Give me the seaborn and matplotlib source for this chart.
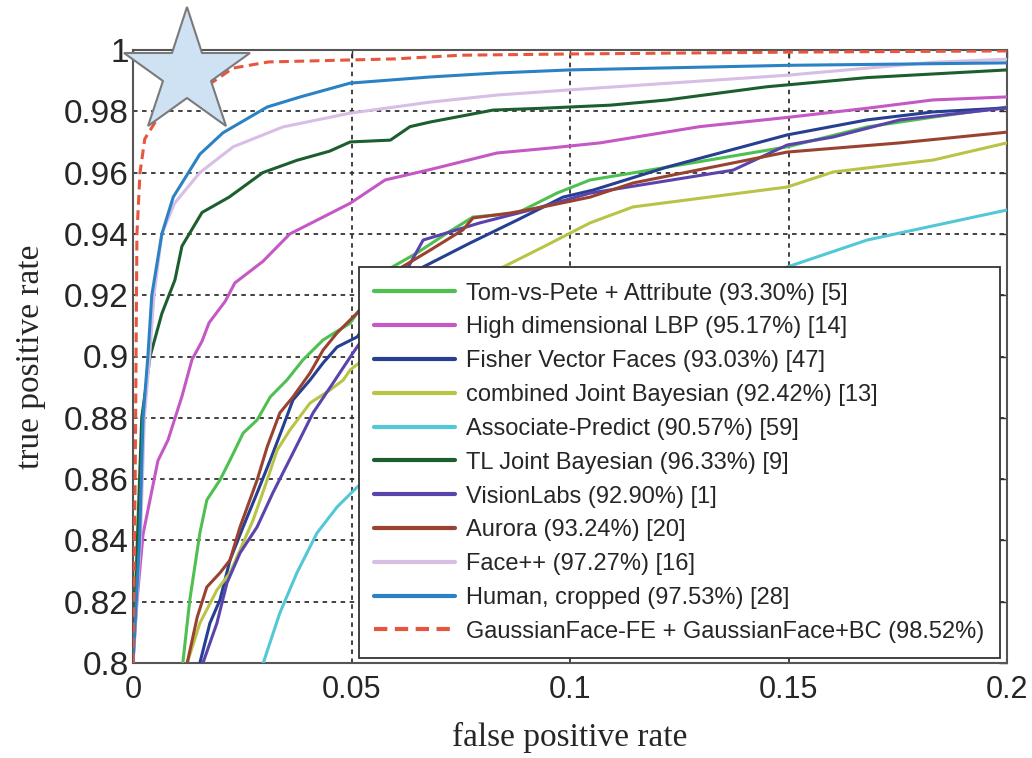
import numpy as np
import pandas as pd
import matplotlib
matplotlib.use("Agg")
import matplotlib.pyplot as plt
import seaborn as sns

# ---------------- data ----------------
tvp_fpr = [0.0114, 0.0130, 0.0153, 0.0169, 0.0199, 0.0222, 0.0252, 0.0284, 0.0314, 0.0352, 0.0389, 0.0435, 0.0497,
           0.0581, 0.0650, 0.0719, 0.0778, 0.0879, 0.0970, 0.1046, 0.1144, 0.1497, 0.1680, 0.1831, 0.2000]
tvp_tpr = [0.800, 0.8206, 0.8424, 0.8532, 0.8597, 0.8662, 0.8750, 0.8793, 0.8868, 0.8923, 0.8989, 0.9054, 0.9109,
           0.9282, 0.9338, 0.9403, 0.9455, 0.9468, 0.9533, 0.9576, 0.9599, 0.9684, 0.9749, 0.9781, 0.9814]

lbp_fpr = [0.0000, 0.0009, 0.0023, 0.0057, 0.0080, 0.0112, 0.0135, 0.0158, 0.0174, 0.0211, 0.0233, 0.0297, 0.0359,
           0.0435, 0.0497, 0.0577, 0.0680, 0.0833, 0.0954, 0.1069, 0.1297, 0.1497, 0.1680, 0.1830, 0.2000]
lbp_tpr = [0.800, 0.820, 0.842, 0.866, 0.8727, 0.887, 0.899, 0.905, 0.911, 0.918, 0.924, 0.931, 0.940,
           0.9455, 0.950, 0.9576, 0.961, 0.9664, 0.968, 0.9697, 0.975, 0.978, 0.981, 0.9837, 0.9847]

fv_fpr = [0.0153, 0.0176, 0.0199, 0.0222, 0.0252, 0.0284, 0.0314, 0.0343, 0.0366, 0.0405, 0.0435, 0.0467, 0.0513,
          0.0581, 0.0650, 0.0771, 0.0879, 0.0984, 0.1053, 0.1222, 0.1497, 0.1680, 0.1831, 0.2000]
fv_tpr = [0.800, 0.8130, 0.8206, 0.8336, 0.8444, 0.8555, 0.8662, 0.8770, 0.8858, 0.8923, 0.8979, 0.9031, 0.9064,
          0.9201, 0.9282, 0.9370, 0.9445, 0.9520, 0.9543, 0.9618, 0.9723, 0.9772, 0.9798, 0.9811]

cjb_fpr = [0.0124, 0.0153, 0.0192, 0.0222, 0.0245, 0.0275, 0.0307, 0.0330, 0.0359, 0.0405, 0.0451, 0.0481, 0.0497,
           0.0611, 0.0725, 0.0833, 0.0938, 0.1046, 0.1144, 0.1497, 0.1602, 0.1831, 0.2000]
cjb_tpr = [0.800, 0.8130, 0.8238, 0.8294, 0.8369, 0.8467, 0.8597, 0.8695, 0.8760, 0.8848, 0.8891, 0.8923, 0.8956,
           0.9086, 0.9201, 0.9282, 0.9357, 0.9436, 0.9488, 0.9553, 0.9602, 0.9641, 0.9697]

ap_fpr = [0.0298, 0.0336, 0.0375, 0.0421, 0.0467, 0.0513, 0.0700, 0.0900, 0.1100, 0.1300, 0.1435, 0.1497, 0.1680,
          0.1755, 0.2000]
ap_tpr = [0.800, 0.8163, 0.8294, 0.8424, 0.8509, 0.8574, 0.8790, 0.8970, 0.9110, 0.9210, 0.9259, 0.9292, 0.9380,
          0.9403, 0.9478]

tl_fpr = [0.0000, 0.0020, 0.0039, 0.0066, 0.0096, 0.0112, 0.0158, 0.0220, 0.0297, 0.0375, 0.0450, 0.0497, 0.0589,
          0.0634, 0.0680, 0.0824, 0.0938, 0.1092, 0.1222, 0.1450, 0.1680, 0.2000]
tl_tpr = [0.800, 0.880, 0.900, 0.914, 0.925, 0.936, 0.947, 0.952, 0.960, 0.964, 0.967, 0.970, 0.9706,
          0.975, 0.9765, 0.9804, 0.981, 0.982, 0.9837, 0.988, 0.991, 0.9935]

vl_fpr = [0.0160, 0.0192, 0.0215, 0.0245, 0.0284, 0.0320, 0.0366, 0.0412, 0.0458, 0.0503, 0.0588, 0.0664, 0.0794,
          0.0909, 0.1046, 0.1373, 0.1497, 0.1602, 0.1755, 0.2000]
vl_tpr = [0.800, 0.8130, 0.8261, 0.8359, 0.8444, 0.8555, 0.8685, 0.8816, 0.8914, 0.9011, 0.9184, 0.9380, 0.9436,
          0.9478, 0.9533, 0.9608, 0.9690, 0.9716, 0.9772, 0.9811]

au_fpr = [0.0124, 0.0147, 0.0169, 0.0199, 0.0222, 0.0245, 0.0284, 0.0307, 0.0336, 0.0366, 0.0405, 0.0435, 0.0467,
          0.0513, 0.0526, 0.0604, 0.0680, 0.0755, 0.0778, 0.0863, 0.0938, 0.1046, 0.1144, 0.1497, 0.1755, 0.2000]
au_tpr = [0.800, 0.8150, 0.8248, 0.8294, 0.8336, 0.8444, 0.8597, 0.8705, 0.8816, 0.8868, 0.8946, 0.9021, 0.9077,
          0.9142, 0.9162, 0.9282, 0.9347, 0.9413, 0.9452, 0.9468, 0.9488, 0.9520, 0.9566, 0.9667, 0.9697, 0.9732]

fpp_fpr = [0.0000, 0.0017, 0.0026, 0.0038, 0.0048, 0.0066, 0.0095, 0.0153, 0.0229, 0.0343, 0.0497, 0.0680, 0.0833,
           0.1000, 0.1500, 0.1830, 0.2000]
fpp_tpr = [0.800, 0.840, 0.880, 0.900, 0.920, 0.940, 0.950, 0.960, 0.9684, 0.9749, 0.9794, 0.983, 0.9853,
           0.987, 0.9918, 0.996, 0.997]

hum_fpr = [0.0000, 0.0015, 0.0023, 0.0034, 0.0043, 0.0066, 0.0092, 0.0153, 0.0206, 0.0307, 0.0383, 0.0497, 0.0680,
           0.0833, 0.1000, 0.1500, 0.2000]
hum_tpr = [0.800, 0.840, 0.880, 0.900, 0.920, 0.940, 0.952, 0.966, 0.973, 0.9814, 0.9847, 0.9892, 0.9912,
           0.9925, 0.9935, 0.9950, 0.9958]

gf_fpr = [0.0000, 0.0005, 0.0009, 0.0016, 0.0027, 0.0066, 0.0120, 0.0183, 0.0229, 0.0310, 0.0600, 0.0750, 0.1000,
          0.1500, 0.2000]
gf_tpr = [0.800, 0.860, 0.940, 0.960, 0.971, 0.980, 0.986, 0.9896, 0.9941, 0.9961, 0.9971, 0.9983, 0.9987,
          0.9993, 0.9997]

labels = ["Tom-vs-Pete + Attribute (93.30%) [5]",
          "High dimensional LBP (95.17%) [14]",
          "Fisher Vector Faces (93.03%) [47]",
          "combined Joint Bayesian (92.42%) [13]",
          "Associate-Predict (90.57%) [59]",
          "TL Joint Bayesian (96.33%) [9]",
          "VisionLabs (92.90%) [1]",
          "Aurora (93.24%) [20]",
          "Face++ (97.27%) [16]",
          "Human, cropped (97.53%) [28]",
          "GaussianFace-FE + GaussianFace+BC (98.52%)"]
colors = ["#4fc04f", "#c458c4", "#263f90", "#b9c447", "#52c8d6", "#1c5e2e",
          "#5b43ad", "#9a4230", "#d6bee4", "#2a82c4", "#e8553f"]
series_fpr = [tvp_fpr, lbp_fpr, fv_fpr, cjb_fpr, ap_fpr, tl_fpr, vl_fpr, au_fpr, fpp_fpr, hum_fpr, gf_fpr]
series_tpr = [tvp_tpr, lbp_tpr, fv_tpr, cjb_tpr, ap_tpr, tl_tpr, vl_tpr, au_tpr, fpp_tpr, hum_tpr, gf_tpr]

x_ticks = [0, 0.05, 0.1, 0.15, 0.2]
x_ticklabels = ["0", "0.05", "0.1", "0.15", "0.2"]
y_ticks = [0.8, 0.82, 0.84, 0.86, 0.88, 0.9, 0.92, 0.94, 0.96, 0.98, 1.0]
y_ticklabels = ["0.8", "0.82", "0.84", "0.86", "0.88", "0.9", "0.92", "0.94", "0.96", "0.98", "1"]

star_x = [0.0124]
star_y = [0.9925]

# ---------------- plot ----------------
sns.set_style("white")
plt.rcParams["font.family"] = ["Liberation Sans", "DejaVu Sans"]

fig = plt.figure(figsize=(10.32, 7.58), dpi=100)
ax = fig.add_axes([133 / 1032, 95 / 758, 874 / 1032, 613 / 758])

for i, (fx, ty) in enumerate(zip(series_fpr, series_tpr)):
    df = pd.DataFrame({"fpr": fx, "tpr": ty})
    ls = (0, (3.2, 1.8)) if i == len(labels) - 1 else "-"
    sns.lineplot(data=df, x="fpr", y="tpr", ax=ax, color=colors[i], lw=2.2,
                 linestyle=ls, label=labels[i], estimator=None, sort=False, zorder=3 + i * 0.01)

ax.set_xlim(0, 0.2)
ax.set_ylim(0.8, 1.0)
ax.set_xticks(x_ticks)
ax.set_xticklabels(x_ticklabels)
ax.set_yticks(y_ticks)
ax.set_yticklabels(y_ticklabels)
ax.tick_params(axis="both", direction="in", length=6, width=1, color="#333333",
               top=True, right=True)
ax.tick_params(axis="x", labelsize=22, pad=9)
ax.tick_params(axis="y", labelsize=24, pad=3)

ax.grid(True, color="#333333", linestyle=(0, (2.5, 2.5)), linewidth=1.3, zorder=1)
ax.set_axisbelow(True)
for sp in ax.spines.values():
    sp.set_color("#555555")
    sp.set_linewidth(1.5)

ax.set_xlabel("false positive rate", fontsize=24, family=["Liberation Serif", "DejaVu Serif"], labelpad=12)
ax.set_ylabel("true positive rate", fontsize=24, family=["Liberation Serif", "DejaVu Serif"], labelpad=13)

leg = ax.legend(loc="lower right", bbox_to_anchor=(0.992, 0.008), borderaxespad=0,
                fontsize=17, frameon=True, fancybox=False, edgecolor="#333333", framealpha=1,
                handlelength=3.4, handletextpad=0.5, labelspacing=0.5, borderpad=0.65)
leg.get_frame().set_linewidth(1.3)
for h in leg.get_lines():
    h.set_linewidth(3)

ax.plot(star_x, star_y, marker="*", ms=95, mfc="#cfe2f3", mec="#7a7a7a", mew=1.5,
        ls="none", clip_on=False, zorder=20)

fig.savefig("out.png", dpi=100)
